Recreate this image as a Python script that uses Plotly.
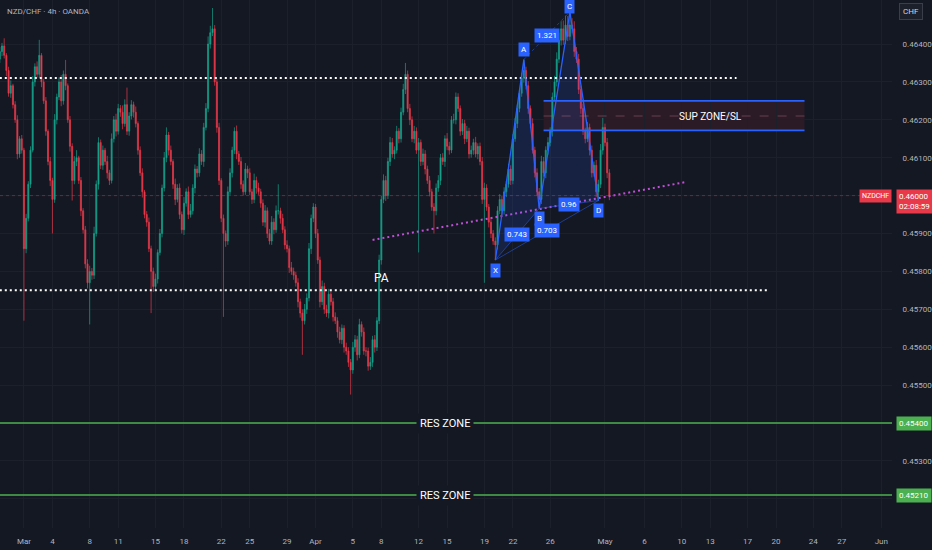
import datetime as dt
import plotly.graph_objects as go

# ---------------- data ----------------
# NZD/CHF 4h candles, prices in 1e-5 CHF (points). Open of each bar = previous close.
first_open = 46360
closes = [
    46380, 46395, 46370, 46330, 46270, 46290, 46240, 46200, 46110, 46150,
    46120, 45860, 45940, 46030, 46120, 46300, 46340, 46320, 46370, 46300,
    46250, 46170, 46090, 46040, 45990, 46200, 46260, 46300, 46250, 46320,
    46290, 46200, 46130, 46040, 46090, 46100, 46040, 45960, 45910, 45820,
    45770, 45800, 45790, 45900, 46030, 46140, 46080, 46120, 46090, 46060,
    46040, 46150, 46200, 46170, 46230, 46220, 46190, 46240, 46170, 46210,
    46240, 46220, 46190, 46120, 46060, 46010, 45950, 45930, 45860, 45800,
    45760, 45780, 45850, 45900, 46020, 46100, 46160, 46120, 46090, 46030,
    45990, 46020, 45950, 45910, 45980, 46010, 45950, 45960, 46020, 46070,
    46060, 46110, 46090, 46180, 46230, 46400, 46430, 46440, 46300, 46180,
    46040, 45940, 45900, 45880, 46010, 46060, 46120, 46170, 46110, 46090,
    46030, 46010, 46070, 46060, 46010, 45990, 46040, 46020, 46010, 45980,
    45930, 45960, 45900, 45880, 45930, 45910, 45960, 45960, 45940, 45910,
    45870, 45860, 45810, 45800, 45790, 45770, 45720, 45690, 45670, 45700,
    45730, 45860, 45940, 45970, 45900, 45830, 45720, 45760, 45700, 45690,
    45740, 45720, 45680, 45670, 45640, 45620, 45650, 45600, 45590, 45560,
    45540, 45600, 45620, 45580, 45660, 45640, 45590, 45590, 45550, 45560,
    45620, 45600, 45670, 45830, 45990, 46040, 46000, 46090, 46140, 46110,
    46120, 46170, 46150, 46220, 46280, 46320, 46230, 46200, 46150, 46170,
    46120, 46140, 46090, 46110, 46070, 46040, 46010, 45970, 45960, 46020,
    46040, 46100, 46090, 46150, 46130, 46120, 46200, 46200, 46260, 46230,
    46170, 46190, 46150, 46170, 46110, 46120, 46140, 46110, 46130, 46090,
    45990, 46020, 45970, 45930, 45900, 45880, 45870, 45960, 45990, 45960,
    46010, 46030, 46070, 46040, 46150, 46190, 46230, 46270, 46310, 46330,
    46290, 46230, 46190, 46120, 46060, 46010, 45990, 46090, 46060, 46120,
    46140, 46170, 46260, 46300, 46360, 46410, 46440, 46410, 46450, 46420,
    46450, 46440, 46380, 46360, 46280, 46230, 46170, 46150, 46180, 46120,
    46060, 46080, 46010, 46030, 46120, 46180, 46140, 46060, 46000,
]
upper_wick = [
    12, 8, 20, 6, 10, 14, 5, 9, 12, 7,
    10, 6, 12, 8, 10, 15, 9, 14, 41, 6,
    8, 10, 5, 12, 7, 15, 9, 12, 18, 10,
    38, 6, 10, 8, 14, 20, 5, 9, 7, 10,
    12, 15, 9, 18, 10, 14, 8, 12, 6, 15,
    8, 14, 10, 16, 12, 9, 18, 14, 45, 10,
    12, 8, 15, 6, 10, 12, 5, 9, 12, 8,
    10, 14, 8, 12, 9, 15, 20, 8, 12, 6,
    15, 10, 12, 8, 16, 9, 14, 18, 10, 12,
    8, 15, 10, 12, 14, 20, 18, 55, 10, 8,
    12, 6, 10, 8, 14, 12, 9, 10, 15, 8,
    12, 10, 16, 9, 12, 8, 18, 10, 14, 8,
    10, 15, 9, 12, 16, 10, 14, 70, 8, 12,
    9, 12, 8, 15, 10, 9, 12, 8, 10, 14,
    12, 15, 10, 10, 8, 12, 9, 16, 10, 12,
    14, 8, 10, 12, 9, 14, 10, 8, 12, 10,
    9, 14, 12, 10, 15, 8, 12, 10, 9, 14,
    10, 12, 9, 14, 10, 16, 12, 10, 15, 12,
    10, 14, 8, 12, 15, 30, 10, 12, 9, 14,
    10, 12, 8, 14, 10, 9, 12, 8, 10, 12,
    14, 10, 12, 9, 15, 12, 10, 16, 12, 10,
    8, 12, 10, 14, 9, 12, 10, 15, 8, 10,
    12, 14, 10, 8, 12, 9, 10, 12, 14, 10,
    12, 9, 14, 10, 12, 15, 10, 12, 14, 29,
    10, 12, 8, 14, 9, 12, 10, 15, 12, 10,
    14, 10, 12, 16, 18, 20, 20, 22, 25, 24,
    35, 18, 20, 12, 14, 10, 12, 9, 14, 10,
    12, 10, 14, 12, 16, 25, 10, 12, 10,
]
lower_wick = [
    10, 12, 8, 15, 9, 12, 10, 8, 14, 10,
    9, 190, 12, 8, 10, 6, 12, 9, 10, 14,
    8, 12, 10, 15, 90, 9, 12, 8, 14, 10,
    12, 8, 14, 53, 10, 12, 9, 14, 10, 12,
    15, 110, 12, 10, 8, 14, 10, 12, 9, 15,
    12, 8, 10, 14, 9, 12, 15, 8, 10, 12,
    9, 14, 10, 12, 8, 15, 10, 12, 9, 110,
    14, 10, 12, 8, 10, 9, 12, 14, 10, 12,
    15, 8, 12, 10, 14, 9, 12, 8, 10, 14,
    12, 10, 9, 14, 8, 10, 12, 9, 10, 14,
    12, 10, 220, 15, 10, 8, 12, 10, 14, 9,
    12, 10, 8, 14, 9, 12, 10, 15, 8, 12,
    10, 14, 12, 9, 10, 12, 8, 10, 14, 9,
    12, 10, 14, 9, 12, 10, 15, 12, 90, 10,
    12, 9, 14, 10, 12, 10, 15, 9, 12, 10,
    14, 10, 12, 9, 15, 10, 12, 14, 10, 12,
    65, 10, 12, 15, 9, 12, 10, 14, 12, 10,
    12, 14, 10, 9, 12, 10, 14, 9, 12, 10,
    14, 9, 12, 10, 8, 12, 10, 14, 9, 12,
    10, 270, 12, 10, 14, 9, 12, 10, 60, 12,
    10, 12, 9, 14, 10, 12, 8, 10, 12, 9,
    12, 10, 14, 9, 12, 10, 12, 9, 14, 10,
    12, 220, 10, 14, 12, 10, 40, 12, 9, 12,
    10, 14, 9, 12, 10, 8, 12, 10, 9, 12,
    10, 14, 12, 9, 12, 10, 24, 12, 10, 14,
    12, 10, 14, 9, 12, 10, 14, 12, 10, 12,
    10, 12, 14, 10, 12, 14, 10, 12, 9, 14,
    12, 10, 14, 23, 10, 12, 10, 14, 12,
]

series_start = dt.datetime(2026, 2, 26, 0, 0)

# date-axis labels (month name on the 1st, day number otherwise)
label_dates = [
    "2026-03-01", "2026-03-04", "2026-03-08", "2026-03-11", "2026-03-15",
    "2026-03-18", "2026-03-22", "2026-03-25", "2026-03-29", "2026-04-01",
    "2026-04-05", "2026-04-08", "2026-04-12", "2026-04-15", "2026-04-19",
    "2026-04-22", "2026-04-26", "2026-05-01", "2026-05-06", "2026-05-10",
    "2026-05-13", "2026-05-17", "2026-05-20", "2026-05-24", "2026-05-27",
    "2026-06-01",
]
price_ticks = [0.452, 0.453, 0.454, 0.455, 0.456, 0.457, 0.458,
               0.459, 0.460, 0.461, 0.462, 0.463, 0.464]

# harmonic XABCD pattern (bar time, price in points)
pattern_names = ["X", "A", "B", "C", "D"]
pattern_times = ["2026-04-20 16:00", "2026-04-22 20:00", "2026-04-24 00:00",
                 "2026-04-28 08:00", "2026-04-30 12:00"]
pattern_pts = [45830, 46359, 45966, 46485, 45987]

# horizontal levels and drawings
dotted_upper = 0.46310
dotted_lower = 0.45750
dotted_upper_end = "2026-05-15 00:00"
dotted_lower_end = "2026-05-19 08:00"
res_levels = [0.45400, 0.45210]
sup_top, sup_bottom, sup_mid = 0.46250, 0.46172, 0.46210
sup_start, sup_end, sup_text_time = "2026-04-24 08:00", "2026-05-22 04:00", "2026-05-13 00:00"
trend_times = ["2026-04-07 08:00", "2026-05-11 04:00"]
trend_prices = [0.45883, 0.46036]
pa_time, pa_price = "2026-04-08 00:00", 0.45783
res_text_time = "2026-04-14 20:00"
last_price = 0.46000
countdown = "02:08:59"

# ---------------- calendar (forex 4h session bars) ----------------
def session_bars(start, count):
    out, t = [], start
    while len(out) < count:
        wd = t.weekday()
        if wd <= 3 or (wd == 4 and t.hour <= 16) or (wd == 6 and t.hour == 20):
            out.append(t)
        t += dt.timedelta(hours=4)
    return out

bar_times = session_bars(series_start, 420)
bar_index = {t: i for i, t in enumerate(bar_times)}


def pos(ts):
    return bar_index[dt.datetime.strptime(ts, "%Y-%m-%d %H:%M")]


def day_pos(day):
    d = dt.date.fromisoformat(day)
    return next(i for i, t in enumerate(bar_times) if t.date() == d)


tick_pos = [day_pos(d) for d in label_dates]
tick_text = [dt.date.fromisoformat(d).strftime("%b") if d.endswith("-01")
             else str(int(d[-2:])) for d in label_dates]

# price-scale levels that carry their own coloured tag get no plain tick label
tagged = set(res_levels) | {last_price, 0.452}
price_text = ["" if any(abs(v - t) < 0.0002 for t in tagged) else f"{v:.5f}"
              for v in price_ticks]

# ---------------- candles ----------------
n = len(closes)
opens = [first_open] + closes[:-1]
highs = [max(o, c) + w for o, c, w in zip(opens, closes, upper_wick)]
lows = [min(o, c) - w for o, c, w in zip(opens, closes, lower_wick)]
sc = 1e-5

BG = "#141823"
GRID = "#1c202b"
TXT = "#b2b5be"
UP, DOWN = "#16a08a", "#e8394a"
BLUE = "#2962ff"
FONT = "Roboto, sans-serif"

fig = go.Figure()

fig.add_trace(go.Candlestick(
    x=list(range(n)),
    open=[v * sc for v in opens], high=[v * sc for v in highs],
    low=[v * sc for v in lows], close=[v * sc for v in closes],
    increasing=dict(line=dict(color=UP, width=0.7), fillcolor=UP),
    decreasing=dict(line=dict(color=DOWN, width=0.7), fillcolor=DOWN),
    whiskerwidth=0, hoverinfo="skip",
))

x_left, x_right = 0.09, 406.9

# dotted support/resistance lines
for lvl, end in [(dotted_upper, dotted_upper_end), (dotted_lower, dotted_lower_end)]:
    fig.add_trace(go.Scatter(x=[0, pos(end)], y=[lvl, lvl], mode="lines",
                             line=dict(color="#ffffff", width=2, dash="2px,3px"),
                             hoverinfo="skip"))

# current price line
fig.add_shape(type="line", xref="paper", x0=0, x1=1, y0=last_price, y1=last_price,
              line=dict(color="rgba(242,54,69,0.4)", width=1, dash="dot"))

# resistance zone lines
for lvl in res_levels:
    fig.add_shape(type="line", xref="paper", x0=0, x1=1, y0=lvl, y1=lvl,
                  line=dict(color="#4caf50", width=1.5))
    fig.add_annotation(x=pos(res_text_time), y=lvl, text="RES ZONE", showarrow=False,
                       font=dict(color="#ffffff", size=11, family=FONT),
                       bgcolor=BG, borderpad=3)

# support zone box
x0s, x1s = pos(sup_start), pos(sup_end)
fig.add_shape(type="rect", x0=x0s, x1=x1s, y0=sup_bottom, y1=sup_top,
              fillcolor="rgba(242,54,69,0.10)", line=dict(width=0), layer="below")
for lvl in (sup_top, sup_bottom):
    fig.add_shape(type="line", x0=x0s, x1=x1s, y0=lvl, y1=lvl,
                  line=dict(color=BLUE, width=1.6))
fig.add_shape(type="line", x0=x0s, x1=x1s, y0=sup_mid, y1=sup_mid,
              line=dict(color="rgba(180,110,130,0.45)", width=1, dash="dash"))
fig.add_annotation(x=pos(sup_text_time), y=sup_mid, text="SUP ZONE/SL", showarrow=False,
                   font=dict(color="#ffffff", size=10, family=FONT))

# rising trendline
fig.add_trace(go.Scatter(x=[pos(t) for t in trend_times], y=trend_prices, mode="lines",
                         line=dict(color="#c24fd8", width=2, dash="2px,3px"),
                         hoverinfo="skip"))

# XABCD pattern
px = [pos(t) for t in pattern_times]
py = [v * sc for v in pattern_pts]
X, A, B, C, D = range(5)
for tri in [(X, A, B), (B, C, D)]:
    fig.add_trace(go.Scatter(x=[px[k] for k in tri] + [px[tri[0]]],
                             y=[py[k] for k in tri] + [py[tri[0]]],
                             mode="lines", fill="toself",
                             fillcolor="rgba(41,98,255,0.14)",
                             line=dict(color="rgba(0,0,0,0)", width=0), hoverinfo="skip"))
fig.add_trace(go.Scatter(x=px, y=py, mode="lines", line=dict(color=BLUE, width=1.3),
                         hoverinfo="skip"))
for a, b, dash in [(X, B, "solid"), (B, D, "solid"), (A, C, "dot"), (X, D, "solid")]:
    fig.add_trace(go.Scatter(x=[px[a], px[b]], y=[py[a], py[b]], mode="lines",
                             line=dict(color="rgba(41,98,255,0.5)", width=1, dash=dash),
                             hoverinfo="skip"))


def ratio(num, den):
    return f"{abs(num) / abs(den):.3f}".rstrip("0").rstrip(".")


p = pattern_pts
ratio_labels = [
    ((X, B), ratio(p[A] - p[B], p[A] - p[X])),
    ((A, C), ratio(p[C] - p[B], p[A] - p[B])),
    ((B, D), ratio(p[C] - p[D], p[C] - p[B])),
    ((X, D), ratio(p[A] - p[D], p[A] - p[X])),
]
for (a, b), txt in ratio_labels:
    fig.add_annotation(x=(px[a] + px[b]) / 2, y=(py[a] + py[b]) / 2, text=txt,
                       showarrow=False, bgcolor=BLUE, borderpad=2,
                       font=dict(color="#ffffff", size=8, family=FONT))
label_shift = {"X": -10, "A": 10, "B": -10, "C": 5, "D": -10}
for k, name in enumerate(pattern_names):
    fig.add_annotation(x=px[k], y=py[k], text=name, showarrow=False, bgcolor=BLUE,
                       borderpad=2, yshift=label_shift[name],
                       font=dict(color="#ffffff", size=8, family=FONT))

# PA note
fig.add_annotation(x=pos(pa_time), y=pa_price, text="PA", showarrow=False,
                   font=dict(color="#ffffff", size=12, family=FONT))

# header and price-scale tags
fig.add_annotation(xref="paper", yref="paper", x=0, y=1, xshift=5, yshift=-5,
                   xanchor="left", yanchor="top", text="NZD/CHF · 4h · OANDA",
                   showarrow=False, font=dict(color=TXT, size=8, family=FONT))
fig.add_annotation(xref="paper", yref="paper", x=1, y=1, xshift=19, yshift=-3,
                   xanchor="center", yanchor="top", text="CHF", showarrow=False,
                   bgcolor="#1c202b", bordercolor="#3a3e4a", borderwidth=1, borderpad=3,
                   font=dict(color="#d1d4dc", size=8, family=FONT))
for lvl in res_levels:
    fig.add_annotation(xref="paper", x=1, xshift=4, xanchor="left", y=lvl,
                       text=f"{lvl:.5f}", showarrow=False, bgcolor="#4caf50", borderpad=2,
                       font=dict(color="#ffffff", size=8, family=FONT))
fig.add_annotation(xref="paper", x=1, xshift=4, xanchor="left", y=last_price, yshift=7,
                   yanchor="top", align="left",
                   text=f"{last_price:.5f}<br>{countdown}", showarrow=False,
                   bgcolor=DOWN, borderpad=2, font=dict(color="#ffffff", size=8, family=FONT))
fig.add_annotation(xref="paper", x=1, xshift=0, xanchor="right", y=last_price, yshift=7,
                   yanchor="top", text="NZDCHF", showarrow=False,
                   bgcolor=DOWN, borderpad=2, font=dict(color="#ffffff", size=7, family=FONT))

fig.update_layout(
    width=932, height=550, margin=dict(l=0, r=37, t=0, b=22),
    paper_bgcolor=BG, plot_bgcolor=BG, showlegend=False, hovermode=False,
    xaxis=dict(range=[x_left, x_right], tickvals=tick_pos, ticktext=tick_text,
               showgrid=True, gridcolor=GRID, gridwidth=1, zeroline=False,
               rangeslider=dict(visible=False), showline=False,
               ticks="outside", ticklen=5, tickcolor=BG,
               tickfont=dict(color=TXT, size=8, family=FONT)),
    yaxis=dict(side="right", range=[0.45123, 0.465161], tickvals=price_ticks,
               ticktext=price_text,
               showgrid=True, gridcolor=GRID, gridwidth=1, zeroline=False, showline=False,
               ticks="outside", ticklen=8, tickcolor=BG,
               tickfont=dict(color=TXT, size=8, family=FONT)),
)

fig.write_html("out.html", config={"displayModeBar": False})
